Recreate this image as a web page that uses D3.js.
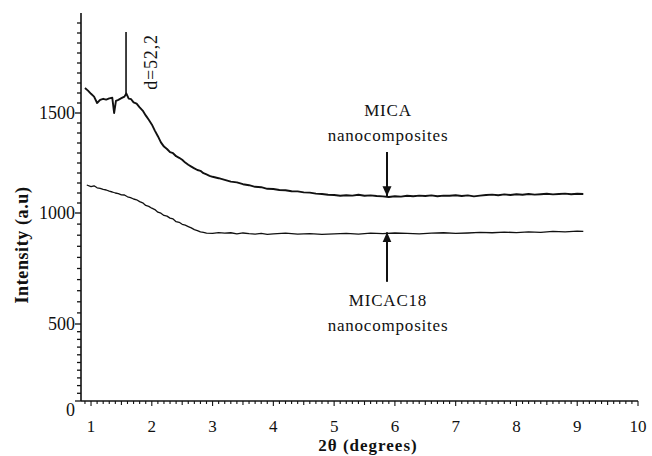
<!DOCTYPE html>
<html><head><meta charset="utf-8">
<script src="https://cdn.jsdelivr.net/npm/d3@7"></script>
<style>
body{margin:0;background:#fff}
svg{display:block}
</style></head>
<body><svg id="c" width="652" height="456" font-family="Liberation Serif, Times New Roman, DejaVu Serif, serif"></svg>
<script>
// ---- data ----
const micaT = [0.90,0.95,1.00,1.05,1.10,1.15,1.20,1.25,1.30,1.35,1.38,1.41,1.45,1.50,1.55,1.58,1.62,1.66,1.70,1.75,1.80,1.85,1.90,1.95,2.00,2.05,2.10,2.15,2.20,2.25,2.30,2.35,2.40,2.45,2.50,2.55,2.60,2.65,2.70,2.75,2.80,2.85,2.90,2.95,3.00,3.10,3.20,3.30,3.40,3.50,3.60,3.70,3.80,3.90,4.00,4.10,4.20,4.30,4.40,4.50,4.60,4.70,4.80,4.90,5.00,5.10,5.20,5.30,5.40,5.50,5.60,5.70,5.80,5.90,6.00,6.10,6.20,6.30,6.40,6.50,6.60,6.70,6.80,6.90,7.00,7.10,7.20,7.30,7.40,7.50,7.60,7.70,7.80,7.90,8.00,8.10,8.20,8.30,8.40,8.50,8.60,8.70,8.80,8.90,9.00,9.10];
const micaV = [1625,1612,1596,1582,1550,1566,1571,1567,1573,1576,1500,1561,1566,1574,1582,1598,1572,1569,1553,1547,1528,1512,1488,1466,1443,1412,1384,1353,1332,1320,1304,1299,1284,1276,1266,1252,1241,1232,1223,1215,1211,1199,1193,1186,1181,1174,1166,1157,1153,1144,1139,1131,1129,1121,1120,1115,1114,1109,1108,1103,1102,1097,1095,1091,1090,1086,1089,1087,1091,1086,1088,1085,1083,1080,1084,1082,1086,1084,1087,1085,1088,1084,1087,1086,1089,1085,1088,1083,1087,1090,1092,1089,1093,1090,1094,1091,1095,1092,1094,1096,1093,1095,1097,1094,1096,1095];
const c18T = [0.93,1.00,1.05,1.10,1.15,1.20,1.25,1.30,1.35,1.40,1.45,1.50,1.55,1.60,1.65,1.70,1.75,1.80,1.85,1.90,1.95,2.00,2.05,2.10,2.15,2.20,2.25,2.30,2.35,2.40,2.45,2.50,2.55,2.60,2.65,2.70,2.75,2.80,2.85,2.90,3.00,3.10,3.20,3.30,3.40,3.50,3.60,3.70,3.80,3.90,4.00,4.20,4.40,4.60,4.80,5.00,5.20,5.40,5.60,5.80,6.00,6.20,6.40,6.60,6.80,7.00,7.20,7.40,7.60,7.80,8.00,8.20,8.40,8.60,8.80,9.00,9.10];
const c18V = [1140,1132,1136,1126,1123,1118,1115,1109,1105,1100,1097,1091,1090,1081,1077,1070,1066,1057,1051,1038,1033,1024,1017,1004,999,989,986,977,973,961,958,949,945,939,933,925,921,915,913,909,908,912,909,911,906,910,907,905,908,904,906,909,905,907,904,906,908,905,909,907,910,908,906,909,911,908,910,913,911,914,912,915,913,917,915,918,917];
const xTicks = [1,2,3,4,5,6,7,8,9,10];
const yTicks = [0,500,1000,1500];
const yBreaks = [0,500,1000,1500,2000];
const xLabel = "2θ (degrees)";
const yLabel = "Intensity (a.u)";
const peakT = 1.576, peakTop = 1905, peakBot = 1596, peakText = "d=52,2";
const arrowT = 5.87;
const micaArrow = [1305, 1084], c18Arrow = [690, 913];
const micaText = ["MICA","nanocomposites"], c18Text = ["MICAC18","nanocomposites"];

// ---- scales ----
const svg = d3.select("#c");
const x = d3.scaleLinear().domain([0.835,10]).range([81,638]);
const y = d3.scaleLinear().domain(yBreaks).range([401,324,213,113,13]);
const ink = "#111";

const defs = svg.append("defs");
defs.append("marker").attr("id","ah").attr("viewBox","0 0 10 10").attr("refX",10).attr("refY",5)
  .attr("markerWidth",10).attr("markerHeight",10).attr("markerUnits","userSpaceOnUse").attr("orient","auto")
  .append("path").attr("d","M0,0.5L10,5L0,9.5Z").attr("fill",ink);

// axes
const g = svg.append("g").attr("stroke",ink).attr("fill","none");
g.append("line").attr("x1",x(0.835)).attr("x2",x(10)).attr("y1",y(0)).attr("y2",y(0)).attr("stroke-width",1.6);
g.append("line").attr("x1",x(0.835)).attr("x2",x(0.835)).attr("y1",y(0)).attr("y2",y(2000)).attr("stroke-width",1.6);
const xMinor = d3.range(9,101).map(d=>d/10);
g.selectAll(".xm").data(xMinor).join("line")
  .attr("x1",d=>x(d)).attr("x2",d=>x(d)).attr("y1",y(0))
  .attr("y2",d=> y(0) + (Math.abs(d-Math.round(d))<1e-6 ? 5 : (Math.abs(d*2-Math.round(d*2))<1e-6?4:3)))
  .attr("stroke-width",1.1);
const yMinor = d3.range(0,1951,50);
g.selectAll(".ym").data(yMinor).join("line")
  .attr("y1",d=>y(d)).attr("y2",d=>y(d)).attr("x1",x(0.835))
  .attr("x2",d=> x(0.835) - (d%500===0 ? 6 : 4)).attr("stroke-width",1.3);

const txt = svg.append("g").attr("fill",ink);
txt.selectAll(".xl").data(xTicks).join("text")
  .attr("x",d=>x(d)).attr("y",432).attr("text-anchor","middle").attr("font-size",17).text(d=>d);
txt.selectAll(".yl").data(yTicks).join("text")
  .attr("x",75).attr("y",d=>y(d)+(d===0?9:0)).attr("dy","0.35em").attr("text-anchor","end").attr("font-size",18).text(d=>d);

txt.append("text").attr("x",368).attr("y",451).attr("text-anchor","middle").attr("font-size",17).attr("letter-spacing",1).attr("font-weight","bold").text(xLabel);
txt.append("text").attr("transform","translate(28,245) rotate(-90)").attr("text-anchor","middle").attr("font-size",18).attr("letter-spacing",0.6).attr("font-weight","bold").text(yLabel);

// series
const line = d3.line().x(d=>x(d[0])).y(d=>y(d[1]));
svg.append("path").datum(d3.zip(micaT,micaV)).attr("d",line).attr("fill","none").attr("stroke",ink).attr("stroke-width",1.9).attr("stroke-linejoin","round");
svg.append("path").datum(d3.zip(c18T,c18V)).attr("d",line).attr("fill","none").attr("stroke",ink).attr("stroke-width",1.3).attr("stroke-linejoin","round");

// annotations
svg.append("line").attr("x1",x(peakT)).attr("x2",x(peakT)).attr("y1",y(peakTop)).attr("y2",y(peakBot)).attr("stroke",ink).attr("stroke-width",1.6);
txt.append("text").attr("transform",`translate(${x(peakT)+31},62) rotate(-90)`).attr("text-anchor","middle").attr("font-size",18).attr("letter-spacing",0.8).text(peakText);

svg.append("line").attr("x1",x(arrowT)).attr("x2",x(arrowT)).attr("y1",y(micaArrow[0])).attr("y2",y(micaArrow[1])).attr("stroke",ink).attr("stroke-width",2).attr("marker-end","url(#ah)");
svg.append("line").attr("x1",x(arrowT)).attr("x2",x(arrowT)).attr("y1",y(c18Arrow[0])).attr("y2",y(c18Arrow[1])).attr("stroke",ink).attr("stroke-width",2).attr("marker-end","url(#ah)");

txt.selectAll(".mt").data(micaText).join("text").attr("x",x(arrowT)+1).attr("y",(d,i)=>116+i*25)
  .attr("text-anchor","middle").attr("font-size",17).attr("letter-spacing",0.8).text(d=>d);
txt.selectAll(".ct").data(c18Text).join("text").attr("x",x(arrowT)+1).attr("y",(d,i)=>306+i*25)
  .attr("text-anchor","middle").attr("font-size",17).attr("letter-spacing",0.8).text(d=>d);
</script></body></html>
